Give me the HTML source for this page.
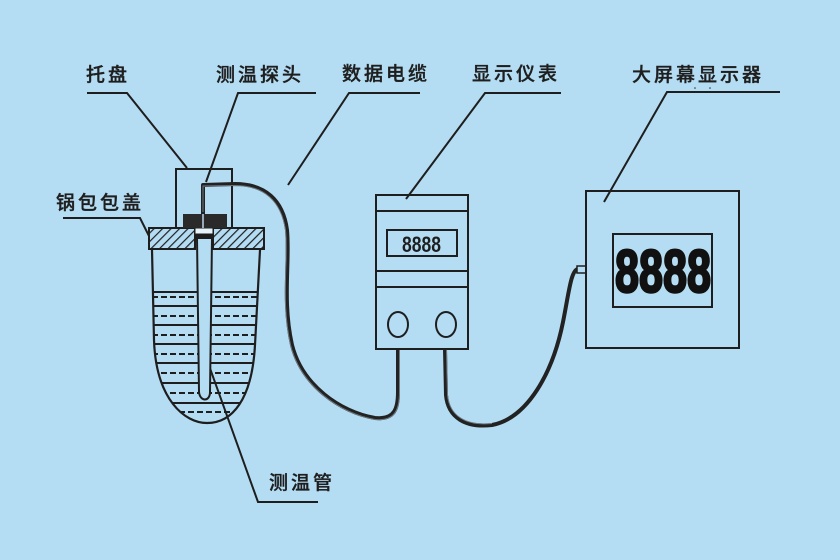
<!DOCTYPE html>
<html><head><meta charset="utf-8"><style>
html,body{margin:0;padding:0;background:#b4ddf3;}
svg{display:block;}
text{font-family:"Liberation Sans","Noto Sans CJK SC",sans-serif;}
.lbl{font-family:"Liberation Sans","Noto Sans CJK SC",sans-serif;font-size:19px;fill:#1e1e1e;letter-spacing:3px;font-weight:500;stroke:#1e1e1e;stroke-width:0.35;}
</style></head><body>
<svg width="840" height="560" viewBox="0 0 840 560" xmlns="http://www.w3.org/2000/svg">
<defs>
<pattern id="hatch" patternUnits="userSpaceOnUse" width="6" height="6" patternTransform="rotate(45)">
<rect width="6" height="6" fill="#b4ddf3"/>
<line x1="0" y1="0" x2="0" y2="6" stroke="#1e1e1e" stroke-width="2.4"/>
</pattern>
<clipPath id="potclip">
<path d="M152,250 L154,340 C156,400 185,423 207,423 C232,423 252,400 255,345 L260,250 Z"/>
</clipPath>
</defs>
<rect width="840" height="560" fill="#b4ddf3"/>

<!-- Labels -->
<text class="lbl" x="86" y="81">托盘</text>
<text class="lbl" x="216" y="81">测温探头</text>
<text class="lbl" x="56" y="209">锅包包盖</text>
<text class="lbl" x="342" y="80">数据电缆</text>
<text class="lbl" x="472" y="80">显示仪表</text>
<text class="lbl" x="632" y="81">大屏幕显示器</text>
<text class="lbl" x="269" y="489">测温管</text>

<!-- leader lines -->
<g stroke="#1e1e1e" stroke-width="2" fill="none">
<polyline points="87,93 127,93 187,168"/>
<polyline points="316,93 238,93 206,182"/>
<polyline points="63,218 140,218 150,238"/>
<polyline points="420,93 349,93 288,185"/>
<polyline points="561,93 485,93 406,199"/>
<polyline points="780,92 667,92 604,202"/>
<polyline points="207,360 258,502 318,502"/>
</g>
<circle cx="695" cy="88" r="0.8" fill="#333"/>
<circle cx="710" cy="88" r="0.8" fill="#333"/>

<!-- Pot -->
<g clip-path="url(#potclip)" stroke="#1e1e1e" stroke-width="2">
<g>
<line x1="140" y1="292" x2="270" y2="292"/>
<line x1="140" y1="306" x2="270" y2="306"/>
<line x1="140" y1="325" x2="270" y2="325"/>
<line x1="140" y1="344" x2="270" y2="344"/>
<line x1="140" y1="363" x2="270" y2="363"/>
<line x1="140" y1="383" x2="270" y2="383"/>
<line x1="140" y1="403" x2="270" y2="403"/>
</g>
<g stroke-dasharray="6,3">
<line x1="152" y1="297" x2="270" y2="297"/>
<line x1="152" y1="316" x2="270" y2="316"/>
<line x1="152" y1="335" x2="270" y2="335"/>
<line x1="152" y1="354" x2="270" y2="354"/>
<line x1="152" y1="373" x2="270" y2="373"/>
<line x1="152" y1="393" x2="270" y2="393"/>
<line x1="152" y1="412" x2="270" y2="412"/>
</g>
</g>
<path d="M152,250 L154,340 C156,400 185,423 207,423 C232,423 252,400 255,345 L260,250" fill="none" stroke="#1e1e1e" stroke-width="2.2"/>

<!-- probe tube -->
<path d="M197,238 L199,392 C200,402 210,402 210,392 L212,238" fill="#b4ddf3" stroke="#1e1e1e" stroke-width="2"/>

<!-- lid -->
<rect x="149" y="228" width="46" height="21" fill="url(#hatch)" stroke="#1e1e1e" stroke-width="2"/>
<rect x="213" y="228" width="51" height="21" fill="url(#hatch)" stroke="#1e1e1e" stroke-width="2"/>
<rect x="195" y="228" width="18" height="6" fill="#e8f4fb" stroke="#1e1e1e" stroke-width="1"/>
<rect x="195" y="234" width="18" height="5" fill="#1e1e1e"/>

<!-- tray -->
<path d="M176,228 L176,169 L232,169 L232,228" fill="none" stroke="#1e1e1e" stroke-width="2"/>
<rect x="183" y="214" width="44" height="14" fill="#2a2a2a"/>
<line x1="203" y1="214" x2="203" y2="228" stroke="#9ab" stroke-width="2"/>

<!-- cable from probe -->
<path d="M203,214 L203,185 L235,184 C265,184 283,200 287,230 C290,262 282,300 292,345 C302,385 340,412 375,418 C395,420 398,408 398,392 L398,349" fill="none" stroke="#222" stroke-width="4" stroke-linejoin="round"/>
<path d="M203,212 L203,186 L235,185.5 C264,185.5 281,201 285.5,230 C288.5,262 280.5,300 290.5,345 C300.5,386 340,413.5 375,419.5 C396,421.5 399.5,408 399.5,392 L399.5,350" fill="none" stroke="#7f8e99" stroke-width="1" opacity="0.8"/>

<!-- meter -->
<rect x="376" y="195" width="92" height="154" fill="none" stroke="#1e1e1e" stroke-width="2"/>
<line x1="376" y1="211" x2="468" y2="211" stroke="#1e1e1e" stroke-width="2"/>
<line x1="376" y1="271" x2="468" y2="271" stroke="#1e1e1e" stroke-width="2"/>
<line x1="376" y1="287" x2="468" y2="287" stroke="#1e1e1e" stroke-width="2"/>
<rect x="387" y="230" width="70" height="26" fill="none" stroke="#1e1e1e" stroke-width="2"/>
<text x="402" y="252" font-size="22" font-weight="bold" fill="#1e1e1e" textLength="39" lengthAdjust="spacingAndGlyphs">8888</text>
<ellipse cx="398" cy="324.5" rx="10" ry="12.5" fill="none" stroke="#1e1e1e" stroke-width="2"/>
<ellipse cx="446" cy="324.5" rx="10" ry="12.5" fill="none" stroke="#1e1e1e" stroke-width="2"/>

<!-- cable meter to display -->
<path d="M445,349 L446,395 C448,418 466,428 492,425 C528,418 553,372 563,322 C569,292 571,270 578,269 L586,269" fill="none" stroke="#222" stroke-width="4" stroke-linejoin="round"/>
<path d="M446.5,350 L447.5,395 C449.5,416 466,426 492,423.5" fill="none" stroke="#7f8e99" stroke-width="1" opacity="0.8"/>
<rect x="577" y="266" width="9" height="7" fill="#b4ddf3" stroke="#1e1e1e" stroke-width="1.5"/>

<!-- big display -->
<rect x="586" y="191" width="153" height="157" fill="none" stroke="#1e1e1e" stroke-width="2"/>
<rect x="613" y="234" width="99" height="73" fill="none" stroke="#1e1e1e" stroke-width="2"/>
<text x="615" y="292" font-size="60" font-weight="bold" fill="#111" stroke="#111" stroke-width="2.5" textLength="96" lengthAdjust="spacingAndGlyphs">8888</text>
</svg>
</body></html>
